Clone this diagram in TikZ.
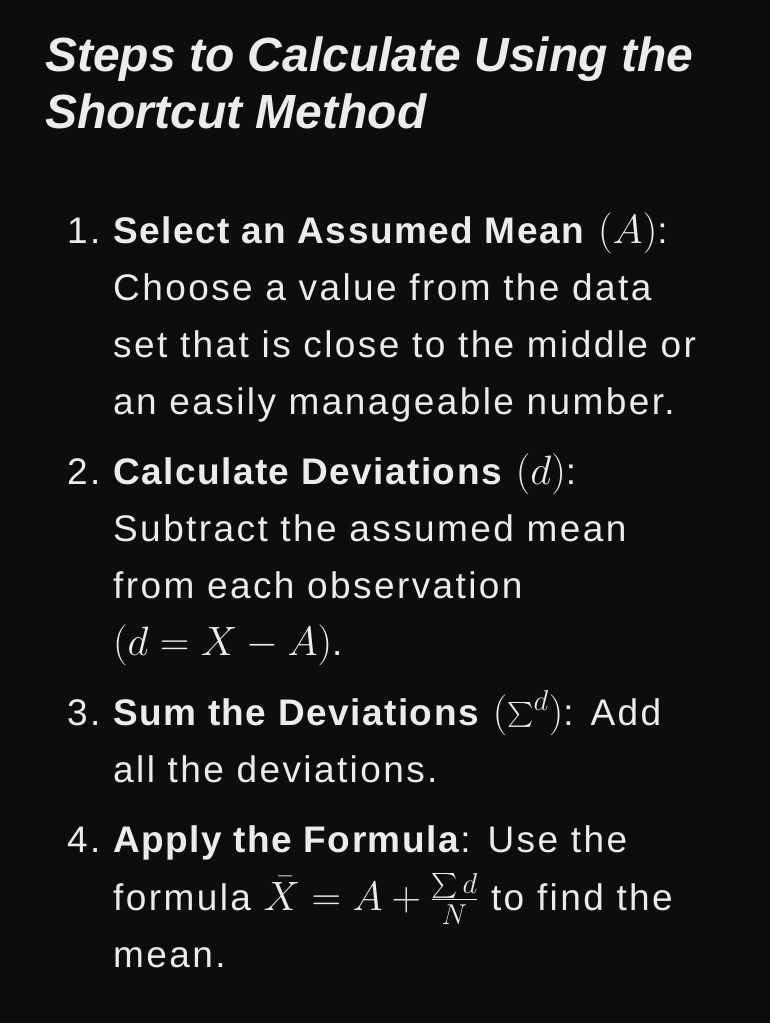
\documentclass[tikz,border=0pt]{standalone}
\usepackage{fix-cm}
\usepackage{amsmath}
\usepackage{fontspec}
\setmainfont{Liberation Sans}[LetterSpace=6.5, BoldFeatures={LetterSpace=4}]
\newfontfamily\headfam{Liberation Sans}
\usetikzlibrary{positioning}
\definecolor{bg}{HTML}{0D0D0D}
\definecolor{fg}{HTML}{ECECEC}
\newcommand{\titlefont}{\headfam\bfseries\itshape\fontsize{48}{57}\selectfont}
\newcommand{\bodyfont}{\fontsize{37}{57}\selectfont}
% math is set a little larger than the text
\newcommand{\mth}[1]{{\fontsize{41}{57}\selectfont$#1$}}
\tikzset{
        textnode/.style={inner sep=0pt, text=fg},
        % Heading lines
        text_title/.style={textnode, anchor=base west, font=\titlefont},
        % List numbers
        text_num/.style={textnode, anchor=base west, font=\bodyfont},
        % Body lines
        text_body/.style={textnode, anchor=base west, font=\bodyfont}
}
\begin{document}
\begin{tikzpicture}[x=1pt, y=-1pt]
            \fill[bg] (0,0) rectangle (770,1023);
            \useasboundingbox (0,0) rectangle (770,1023);
            % Heading
            \node[text_title] (title_a) at (45,71) {Steps to Calculate Using the};
            \node[text_title] (title_b) at (45,128) {Shortcut Method};
            % Step 1
            \node[text_num] (num_a) at (67,243) {1.};
            \node[text_body] (step_a1) at (113,243) {\textbf{Select an Assumed Mean} \mth{(A)}:};
            \node[text_body] (step_a2) at (113,300) {Choose a value from the data};
            \node[text_body] (step_a3) at (113,357) {set that is close to the middle or};
            \node[text_body] (step_a4) at (113,414) {an easily manageable number.};
            % Step 2
            \node[text_num] (num_b) at (67,484) {2.};
            \node[text_body] (step_b1) at (113,484) {\textbf{Calculate Deviations} \mth{(d)}:};
            \node[text_body] (step_b2) at (113,541) {Subtract the assumed mean};
            \node[text_body] (step_b3) at (113,598) {from each observation};
            \node[text_body] (step_b4) at (113,655) {\mth{(d = X - A)}.};
            % Step 3
            \node[text_num] (num_c) at (67,725) {3.};
            \node[text_body] (step_c1) at (113,725) {\textbf{Sum the Deviations} \mth{(\sum\nolimits^{d})}: Add};
            \node[text_body] (step_c2) at (113,782) {all the deviations.};
            % Step 4
            \node[text_num] (num_d) at (67,852) {4.};
            \node[text_body] (step_d1) at (113,852) {\textbf{Apply the Formula}: Use the};
            \node[text_body] (step_d2) at (113,910) {formula \mth{\bar{X} = A + \frac{\sum d}{N}} to find the};
            \node[text_body] (step_d3) at (113,967) {mean.};
\end{tikzpicture}
\end{document}
